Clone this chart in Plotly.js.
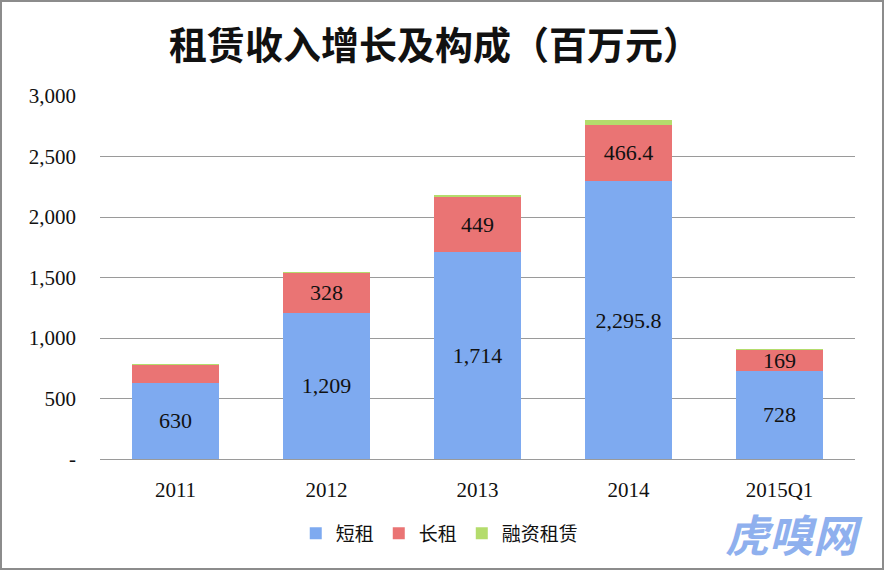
<!DOCTYPE html>
<html>
<head>
<meta charset="utf-8">
<script src="https://cdn.plot.ly/plotly-3.0.1.min.js"></script>
<style>
html,body{margin:0;padding:0;background:#fff;}
#chart{width:884px;height:570px;box-sizing:border-box;border:2px solid #8c8c8c;}
</style>
</head>
<body>
<div id="chart"></div>
<script>
const categories = ['2011', '2012', '2013', '2014', '2015Q1'];
const shortRent = [630, 1209, 1714, 2295.8, 728];
const longRent = [146, 328, 449, 466.4, 169];
const financeLease = [10, 9, 20, 42, 9];
const shortLabels = ['630', '1,209', '1,714', '2,295.8', '728'];
const longLabels = ['', '328', '449', '466.4', '169'];
const yTickVals = [0, 500, 1000, 1500, 2000, 2500, 3000];
const yTickText = ['-', '500', '1,000', '1,500', '2,000', '2,500', '3,000'];

const serif = 'Liberation Serif, DejaVu Serif, serif';
const cjk = 'Noto Sans CJK SC, sans-serif';

const traces = [
  {
    type: 'bar', name: '短租', x: categories, y: shortRent,
    text: shortLabels, textposition: 'inside', insidetextanchor: 'middle', constraintext: 'none',
    textfont: {family: serif, size: 22, color: '#111'},
    marker: {color: '#7eaaf0', line: {width: 0}},
    hoverinfo: 'none'
  },
  {
    type: 'bar', name: '长租', x: categories, y: longRent,
    text: longLabels, textposition: 'inside', insidetextanchor: 'middle', constraintext: 'none',
    textfont: {family: serif, size: 22, color: '#111'},
    marker: {color: '#ea7474', line: {width: 0}},
    hoverinfo: 'none'
  },
  {
    type: 'bar', name: '融资租赁', x: categories, y: financeLease,
    textposition: 'none',
    marker: {color: '#b4dc6c', line: {width: 0}},
    hoverinfo: 'none'
  }
];

const layout = {
  width: 880, height: 566,
  margin: {l: 98, r: 27, t: 94, b: 109},
  paper_bgcolor: '#fff', plot_bgcolor: '#fff',
  barmode: 'stack', bargap: 0.42,
  showlegend: true,
  title: {text: '<b>租赁收入增长及构成（百万元）</b>', xref: 'container', x: 0.492, xanchor: 'center', y: 0.922, yanchor: 'middle',
          font: {family: cjk, size: 38, color: '#111'}},
  xaxis: {
    type: 'category', showgrid: false, zeroline: false, showline: false,
    ticks: '', ticklabelstandoff: 16,
    tickfont: {family: serif, size: 21, color: '#111'}
  },
  yaxis: {
    range: [0, 3000], tickvals: yTickVals, ticktext: yTickText,
    showgrid: true, gridcolor: '#9a9a9a', gridwidth: 1,
    zeroline: true, zerolinecolor: '#9a9a9a', zerolinewidth: 1,
    showline: false, ticks: '', ticklabelstandoff: 23,
    tickfont: {family: serif, size: 21, color: '#111'}
  },
  legend: {
    orientation: 'h', x: 0.45, xanchor: 'center', y: -0.205, yanchor: 'middle',
    font: {family: cjk, size: 19, color: '#111'},
    traceorder: 'normal', itemwidth: 30
  },
  annotations: [
    {text: '<b><i>虎嗅网</i></b>', xref: 'paper', yref: 'paper', x: 1.012, y: -0.295, xanchor: 'right', yanchor: 'bottom',
     showarrow: false, borderpad: 0, font: {family: cjk, size: 44, color: '#8fb0ee'}}
  ]
};

Plotly.newPlot('chart', traces, layout, {displayModeBar: false, staticPlot: true});
</script>
</body>
</html>
